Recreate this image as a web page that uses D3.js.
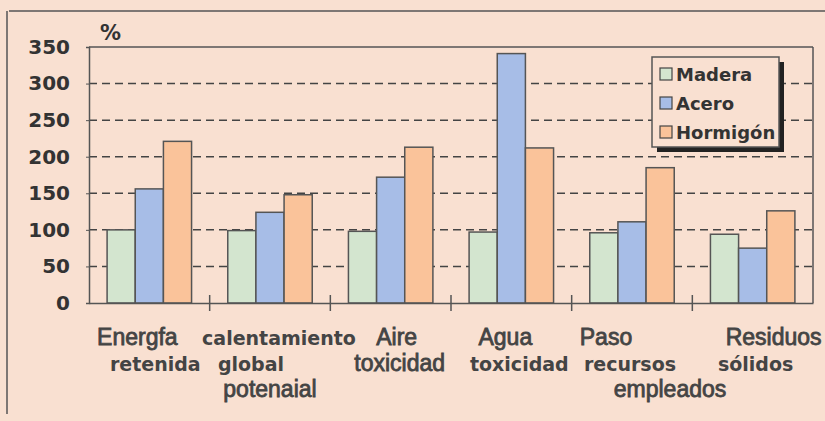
<!DOCTYPE html>
<html>
<head>
<meta charset="utf-8">
<script src="https://cdn.jsdelivr.net/npm/d3@7"></script>
<style>
  html, body { margin: 0; padding: 0; background: #f9e0d1; }
  svg { display: block; }
</style>
</head>
<body>
<div id="chart"></div>
<script>
// datos
var categories = ['energia', 'calentamiento', 'aire', 'agua', 'paso', 'residuos'];
var series = ['Madera', 'Acero', 'Hormigón'];
var madera   = [100, 99, 98, 97, 96, 94];
var acero    = [156, 124, 172, 341, 111, 75];
var hormigon = [221, 148, 213, 212, 185, 126];
var yTicks = [0, 50, 100, 150, 200, 250, 300, 350];

// etiquetas del eje x, linea a linea (1 = negrita)
var labelLines = [
  [['Energfa', 0], ['retenida', 1]],
  [['calentamiento', 1], ['global', 1], ['potenaial', 0]],
  [['Aire', 0], ['toxicidad', 0]],
  [['Agua', 0], ['toxicidad', 1]],
  [['Paso', 0], ['recursos', 1], ['empleados', 0]],
  [['Residuos', 0], ['sólidos', 1]]
];
// desplazamientos de cada linea respecto al centro del grupo
var labelShift = [[-12, 6], [9, -19, 0], [6, 9], [-6, 8], [-26, -2, 38], [21, 3]];

var colors = ['#d3e5cf', '#a7bde7', '#fac39a'];
var values = [madera, acero, hormigon];

var W = 825, H = 421;
var margin = { top: 47, right: 12, bottom: 118, left: 89 };
var width = W - margin.left - margin.right,
    height = H - margin.top - margin.bottom;

var svg = d3.select('#chart').append('svg')
  .attr('width', W).attr('height', H);

// marco exterior
svg.append('line').attr('x1', 9).attr('x2', W).attr('y1', 11).attr('y2', 11)
  .attr('stroke', '#555').attr('stroke-width', 1.5);
svg.append('line').attr('x1', 7).attr('x2', 7).attr('y1', 11).attr('y2', 414)
  .attr('stroke', '#555').attr('stroke-width', 1.5);

var g = svg.append('g')
  .attr('transform', 'translate(' + margin.left + ',' + margin.top + ')');

var x0 = d3.scaleBand().domain(categories).range([0, width]).paddingInner(0.3).paddingOuter(0.15);
var x = d3.scaleBand().domain(categories).range([0, width]);
var x1 = d3.scaleBand().domain(series).range([0, x0.bandwidth()]);
var y = d3.scaleLinear().domain([0, 350]).range([height, 0]);

// lineas de cuadricula
g.selectAll('.grid').data(yTicks.filter(function(d){ return d > 0 && d < 350; }))
  .enter().append('line')
  .attr('x1', 0).attr('x2', width)
  .attr('y1', function(d){ return y(d); }).attr('y2', function(d){ return y(d); })
  .attr('stroke', '#444').attr('stroke-width', 1.5)
  .attr('stroke-dasharray', '8,5');

// borde del area
g.append('line').attr('x1', 0).attr('x2', width).attr('y1', 0).attr('y2', 0)
  .attr('stroke', '#555').attr('stroke-width', 1.5);
g.append('line').attr('x1', width).attr('x2', width).attr('y1', 0).attr('y2', height)
  .attr('stroke', '#555').attr('stroke-width', 1.5);

// barras
var groups = g.selectAll('.grp').data(categories).enter().append('g')
  .attr('transform', function(d){ return 'translate(' + x0(d) + ',0)'; });

groups.selectAll('rect')
  .data(function(d, i){ return series.map(function(s, j){ return { s: s, v: values[j][i], c: colors[j] }; }); })
  .enter().append('rect')
  .attr('x', function(d){ return x1(d.s); })
  .attr('y', function(d){ return y(d.v); })
  .attr('width', x1.bandwidth())
  .attr('height', function(d){ return height - y(d.v); })
  .attr('fill', function(d){ return d.c; })
  .attr('stroke', '#555').attr('stroke-width', 1.5);

// eje y
var yAxis = g.append('g').call(d3.axisLeft(y).tickValues(yTicks).tickSize(3).tickPadding(16));
yAxis.select('.domain').attr('stroke', '#555').attr('stroke-width', 1.5);
yAxis.selectAll('line').attr('stroke', '#555');
yAxis.selectAll('text')
  .attr('font-family', 'DejaVu Sans, Verdana, sans-serif')
  .attr('font-weight', 'bold').attr('font-size', 20).attr('fill', '#333');

// eje x
var xAxis = g.append('g').attr('transform', 'translate(0,' + height + ')')
  .call(d3.axisBottom(x).tickSize(0).tickFormat(''));
xAxis.select('.domain').attr('stroke', '#555').attr('stroke-width', 1.5);
g.selectAll('.sep').data(categories.slice(1)).enter().append('line')
  .attr('x1', function(d){ return x(d); }).attr('x2', function(d){ return x(d); })
  .attr('y1', height - 8).attr('y2', height + 8)
  .attr('stroke', '#555').attr('stroke-width', 1.5);

// etiquetas de categorias (el escaneo engorda el texto normal: trazo fino)
categories.forEach(function(c, i){
  var cx = x(c) + x.bandwidth() / 2;
  labelLines[i].forEach(function(l, k){
    g.append('text')
      .attr('x', cx + labelShift[i][k])
      .attr('y', height + 42 + k * 26)
      .attr('text-anchor', 'middle')
      .attr('font-family', l[1] ? 'DejaVu Sans, Verdana, sans-serif' : 'Liberation Sans, Arial, sans-serif')
      .attr('font-weight', l[1] ? 'bold' : 'normal')
      .attr('font-size', l[1] ? 19 : 23)
      .attr('fill', '#444')
      .attr('stroke', l[1] ? 'none' : '#444')
      .attr('stroke-width', 0.8)
      .text(l[0]);
  });
});

// unidad
svg.append('text').attr('x', 100).attr('y', 40)
  .attr('font-family', 'DejaVu Sans, Verdana, sans-serif')
  .attr('font-weight', 'bold').attr('font-size', 21).attr('fill', '#333')
  .text('%');

// leyenda
var lg = svg.append('g').attr('transform', 'translate(652,57)');
lg.append('rect').attr('x', 5).attr('y', 5).attr('width', 127).attr('height', 90).attr('fill', '#222');
lg.append('rect').attr('width', 127).attr('height', 90)
  .attr('fill', '#f9e0d1').attr('stroke', '#555').attr('stroke-width', 1.5);
series.forEach(function(s, i){
  lg.append('rect').attr('x', 8).attr('y', 11 + i * 29).attr('width', 12).attr('height', 12)
    .attr('fill', colors[i]).attr('stroke', '#444').attr('stroke-width', 1.2);
  lg.append('text').attr('x', 24).attr('y', 24 + i * 29)
    .attr('font-family', 'DejaVu Sans, Verdana, sans-serif')
    .attr('font-weight', 'bold').attr('font-size', 18).attr('fill', '#333')
    .text(s);
});
</script>
</body>
</html>
